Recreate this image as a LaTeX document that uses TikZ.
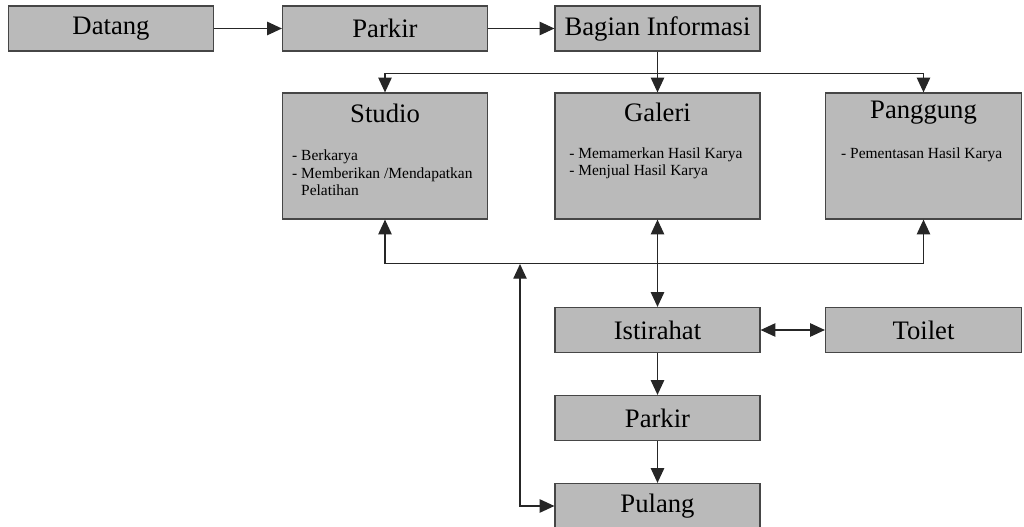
\documentclass[tikz,border=0pt]{standalone}
\usepackage{fontspec}
\setmainfont{Liberation Serif}
\newfontfamily\timesfont{Liberation Serif}
\usepackage{tikz}
\usetikzlibrary{arrows.meta, positioning, calc}
\definecolor{boxgray}{RGB}{186, 186, 186}
\definecolor{edgegray}{RGB}{70, 70, 70}

\begin{document}
\begin{tikzpicture}[x=0.75pt, y=-0.75pt, > = {Triangle[length=11pt, width=10pt]},
	box/.style = {draw=edgegray, line width=0.9pt, fill=boxgray, minimum width=153.75pt,
		minimum height=33.75pt, inner sep=0pt, font=\timesfont\fontsize{20}{22}\selectfont},
	bigbox/.style = {box, minimum height=94.5pt},
	title/.style = {inner sep=0pt, font=\timesfont\fontsize{20}{22}\selectfont},
	note/.style = {inner sep=0pt, anchor=north west, align=left, font=\timesfont\fontsize{11.6}{13.2}\selectfont},
	link/.style = {draw=black!85, line width=0.9pt}]
	\useasboundingbox (0,0) rectangle (1024,527);

	% top row
	\node[box] (datang) at (111,28.5) {Datang};
	\node[box] (parkir) at (385,28.5) {Parkir};
	\node[box] (info) at (657.5,28.5) {Bagian Informasi};

	% facilities
	\node[bigbox] (studio) at (385,156) {};
	\node[bigbox] (galeri) at (657.5,156) {};
	\node[bigbox, minimum width=147pt] (panggung) at (923.5,156) {};
	\node[title] (studiot) at (studio.north) [yshift=-15.5pt] {Studio};
	\node[title] (galerit) at (galeri.north) [yshift=-15pt] {Galeri};
	\node[title] (panggungt) at (panggung.north) [yshift=-15pt] {Panggung};
	\node[note] (studiol) at (studio.north west) [xshift=7.5pt, yshift=-43pt]
		{- Berkarya\\- Memberikan /Mendapatkan\\\phantom{- }Pelatihan};
	\node[note] (galeril) at (galeri.north west) [xshift=11pt, yshift=-41pt]
		{- Memamerkan Hasil Karya\\- Menjual Hasil Karya};
	\node[note] (panggungl) at (panggung.north west) [xshift=12pt, yshift=-41pt]
		{- Pementasan Hasil Karya};

	% lower column
	\node[box] (istirahat) at (657.5,330) {Istirahat};
	\node[box, minimum width=147pt] (toilet) at (923.5,330) {Toilet};
	\node[box] (parkir2) at (657.5,418) {Parkir};
	\node[box] (pulang) at (657.5,506) {Pulang};

	% connectors
	\draw[link,->] (datang) -- (parkir);
	\draw[link,->] (parkir) -- (info);
	\draw[link] (info.south) -- ++(0,22) coordinate (split);
	\draw[link,->] (split) -| (studio.north);
	\draw[link,->] (split) -- (galeri.north);
	\draw[link,->] (split) -| (panggung.north);

	\path (galeri.south) ++(0,44) coordinate (bus);
	\draw[link,<->] (studio.south) |- (bus) -| (panggung.south);
	\draw[link,<->] (galeri.south) -- (istirahat.north);
	\draw[link,<->] (istirahat) -- (toilet);
	\draw[link,->] (istirahat) -- (parkir2);
	\draw[link,->] (parkir2) -- (pulang);

	\coordinate (back) at (520,264);
	\draw[link,<->] (back) |- (pulang.west);
\end{tikzpicture}
\end{document}
